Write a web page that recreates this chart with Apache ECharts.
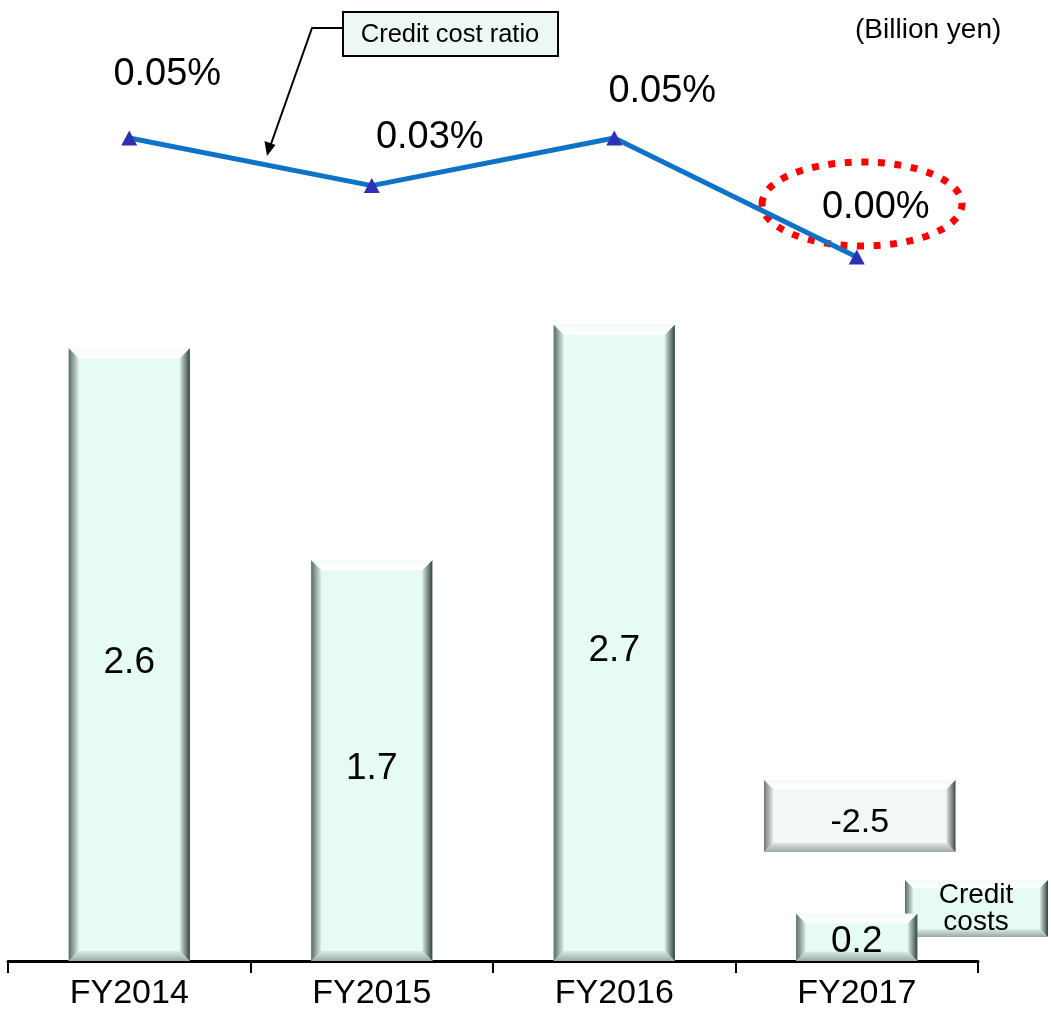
<!DOCTYPE html>
<html>
<head>
<meta charset="utf-8">
<title>Credit costs and credit cost ratio</title>
<script src="https://cdn.jsdelivr.net/npm/echarts@6/dist/echarts.min.js"></script>
<style>
  html, body { margin: 0; padding: 0; background: #ffffff; }
  #chart { width: 1051px; height: 1011px; }
</style>
</head>
<body>
<div id="chart"></div>
<script>
// ---- data ----
const categories = ['FY2014', 'FY2015', 'FY2016', 'FY2017'];
const creditCosts = [2.6, 1.7, 2.7, 0.2];          // billion yen
const creditCostRatio = [0.05, 0.03, 0.05, 0.00];  // percent

// change from the previous year for the latest fiscal year
const lastIdx = creditCosts.length - 1;
const latestChange = Math.round((creditCosts[lastIdx] - creditCosts[lastIdx - 1]) * 10) / 10;

// ---- look ----
const FONT = '"Liberation Sans", Arial, Helvetica, sans-serif';
const LG = echarts.graphic.LinearGradient;

// label offsets for the ratio line, relative to each marker
const ratioLabelOffsets = [[38, -63], [58, -48], [48, -46], [19, -49]];
// vertical level (in axis units) where the change box sits
const CHANGE_BOX_LEVEL = 0.615;

// Bevelled "button" box: face plus four shaded edges
function bevelBox(x, y, w, h, b, face, edges) {
  return [
    { type: 'rect', shape: { x: x, y: y, width: w, height: h }, style: { fill: face } },
    { type: 'polygon', shape: { points: [[x, y], [x + w, y], [x + w - b, y + b], [x + b, y + b]] },
      style: { fill: new LG(0, 0, 0, 1, [{ offset: 0, color: edges.top[0] }, { offset: 1, color: edges.top[1] }]) } },
    { type: 'polygon', shape: { points: [[x, y + h], [x + w, y + h], [x + w - b, y + h - b], [x + b, y + h - b]] },
      style: { fill: new LG(0, 0, 0, 1, [{ offset: 0, color: edges.bottom[0] }, { offset: 1, color: edges.bottom[1] }]) } },
    { type: 'polygon', shape: { points: [[x, y], [x + b, y + b], [x + b, y + h - b], [x, y + h]] },
      style: { fill: new LG(0, 0, 1, 0, [{ offset: 0, color: edges.left[0] }, { offset: 1, color: edges.left[1] }]) } },
    { type: 'polygon', shape: { points: [[x + w, y], [x + w, y + h], [x + w - b, y + h - b], [x + w - b, y + b]] },
      style: { fill: new LG(0, 0, 1, 0, [{ offset: 0, color: edges.right[0] }, { offset: 1, color: edges.right[1] }]) } }
  ];
}

const mintEdges = {
  top: ['#f3fbf8', '#ffffff'],
  bottom: ['#d6ebe3', '#9aaba4'],
  left: ['#5b6a64', '#d6ece4'],
  right: ['#d3e7e0', '#36433e']
};
const greyEdges = {
  top: ['#f6f8f7', '#ffffff'],
  bottom: ['#dfe5e2', '#9ea7a3'],
  left: ['#6f7774', '#e2e8e5'],
  right: ['#dce3e0', '#434a47']
};

const chart = echarts.init(document.getElementById('chart'), null, { renderer: 'canvas' });

const option = {
  backgroundColor: '#ffffff',
  animation: false,
  grid: [
    { left: 8, right: 73, top: 254, bottom: 46 },   // credit costs (bars)
    { left: 8, right: 73, top: 138, bottom: 754 }   // credit cost ratio (line)
  ],
  xAxis: [
    {
      type: 'category', gridIndex: 0, data: categories, boundaryGap: true,
      axisLine: { show: true, lineStyle: { color: '#000000', width: 3 } },
      axisTick: { show: true, length: 12, lineStyle: { color: '#000000', width: 2 } },
      axisLabel: { color: '#000000', fontFamily: FONT, fontSize: 34, margin: 16 },
      splitLine: { show: false }
    },
    {
      type: 'category', gridIndex: 1, data: categories, boundaryGap: true, show: false
    }
  ],
  yAxis: [
    { type: 'value', gridIndex: 0, min: 0, max: 3, show: false, splitLine: { show: false } },
    { type: 'value', gridIndex: 1, min: 0, max: 0.05, show: false, splitLine: { show: false } }
  ],
  series: [
    {
      name: 'Credit costs',
      type: 'custom',
      xAxisIndex: 0, yAxisIndex: 0,
      data: creditCosts.map((v, i) => [i, v]),
      clip: false,
      renderItem: function (params, api) {
        const i = api.value(0), v = api.value(1);
        const top = api.coord([i, v]);
        const base = api.coord([i, 0]);
        const w = api.size([1, 0])[0] * 0.5;
        const x = top[0] - w / 2;
        const h = base[1] - top[1];
        const b = Math.min(10, h / 5);
        const children = bevelBox(x, top[1], w, h, b, '#e5fbf4', mintEdges);
        children.push({
          type: 'text',
          style: {
            text: v.toFixed(1), x: top[0], y: top[1] + h / 2 + Math.min(8, h / 12),
            align: 'center', verticalAlign: 'middle',
            fill: '#000000', font: '37px ' + FONT
          }
        });
        return { type: 'group', children: children };
      },
      z: 2
    },
    {
      name: 'Change',
      type: 'custom',
      xAxisIndex: 0, yAxisIndex: 0,
      data: [[lastIdx, latestChange]],
      clip: false,
      renderItem: function (params, api) {
        const i = api.value(0), v = api.value(1);
        const c = api.coord([i, CHANGE_BOX_LEVEL]);
        const w = api.size([1, 0])[0] * 0.79;
        const h = 72;
        const x = c[0] + 3 - w / 2, y = c[1] - h / 2;
        const children = bevelBox(x, y, w, h, 9, '#f3f7f5', greyEdges);
        children.push({
          type: 'text',
          style: {
            text: v.toFixed(1), x: c[0] + 3, y: c[1] + 7,
            align: 'center', verticalAlign: 'middle',
            fill: '#000000', font: '34px ' + FONT
          }
        });
        return { type: 'group', children: children };
      },
      z: 2
    },
    {
      name: 'Credit cost ratio',
      type: 'line',
      xAxisIndex: 1, yAxisIndex: 1,
      data: creditCostRatio.map((v, i) => ({
        value: v,
        label: { offset: ratioLabelOffsets[i] }
      })),
      symbol: 'triangle',
      symbolSize: [16, 15],
      showAllSymbol: true,
      clip: false,
      itemStyle: { color: '#2f2fb6' },
      lineStyle: { color: '#0e72c6', width: 5 },
      label: {
        show: true, position: 'inside', distance: 0,
        align: 'center', verticalAlign: 'middle',
        color: '#000000', fontFamily: FONT, fontSize: 38,
        formatter: p => p.value.toFixed(2) + '%'
      },
      z: 4
    }
  ],
  graphic: [
    // unit note
    {
      type: 'text', left: 855, top: 16, z: 10,
      style: { text: '(Billion yen)', fill: '#000000', font: '28px ' + FONT }
    },
    // callout for the ratio line
    {
      type: 'rect', z: 10,
      shape: { x: 343, y: 12, width: 215, height: 44 },
      style: { fill: '#eef8f3', stroke: '#000000', lineWidth: 2 }
    },
    {
      type: 'text', z: 11, x: 450, y: 35,
      style: { text: 'Credit cost ratio', align: 'center', verticalAlign: 'middle', fill: '#000000', font: '25.5px ' + FONT }
    },
    {
      type: 'polyline', z: 10,
      shape: { points: [[343, 28], [312, 28], [271, 144]] },
      style: { stroke: '#000000', lineWidth: 2, fill: null }
    },
    {
      type: 'polygon', z: 10,
      shape: { points: [[267, 156], [264.5, 141], [275.5, 145]] },
      style: { fill: '#000000' }
    },
    // highlight ring around the latest ratio
    {
      type: 'ellipse', z: 3,
      shape: { cx: 862, cy: 204, rx: 100, ry: 42 },
      style: { fill: null, stroke: '#ff0000', lineWidth: 7, lineDash: [7, 9.5] }
    },
    // series tag for the bars
    {
      type: 'group', z: 12,
      children: bevelBox(905, 880, 143, 57, 8, '#e5fbf4', mintEdges).concat([
        {
          type: 'text',
          style: {
            text: 'Credit\ncosts', x: 976, y: 909, align: 'center', verticalAlign: 'middle',
            lineHeight: 27, fill: '#000000', font: '28px ' + FONT
          }
        }
      ])
    }
  ]
};

chart.setOption(option);
</script>
</body>
</html>
